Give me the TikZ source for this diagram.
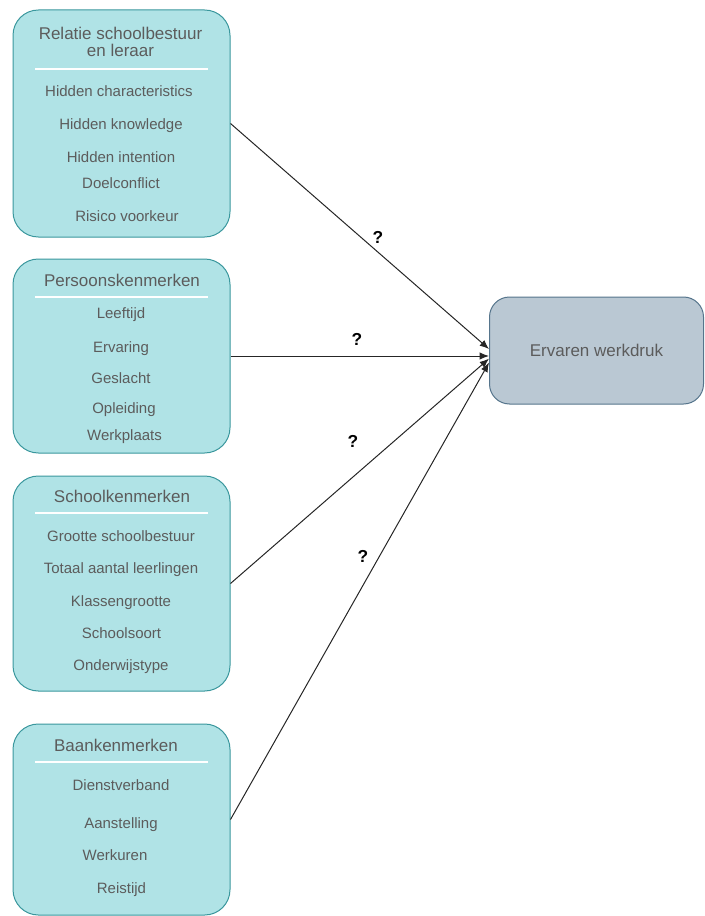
\documentclass[tikz,border=0pt]{standalone}
\usepackage{fontspec}
\setmainfont{Liberation Sans}
\usetikzlibrary{arrows.meta}
\definecolor{tealfill}{HTML}{B0E3E6}
\definecolor{tealline}{HTML}{3A979D}
\definecolor{greyfill}{HTML}{BAC8D3}
\definecolor{greyline}{HTML}{56758C}
\definecolor{textgrey}{HTML}{5C5C5C}

\begin{document}
\begin{tikzpicture}[
          x = 0.75pt, y = -0.75pt, inner sep = 0,
          every node/.style = {text = textgrey, font = \fontsize{11.25}{13}\selectfont}
        ]
          \tikzstyle {group} = [draw = tealline, line width = 0.75pt, fill = tealfill, rounded corners = 19pt, minimum width = 162.75pt]
          \tikzstyle {outcome} = [draw = greyline, line width = 0.75pt, fill = greyfill, rounded corners = 15pt, minimum width = 160.5pt, minimum height = 80.25pt, font = \fontsize{12.75}{15}\selectfont]
          \tikzstyle {heading} = [anchor = base, yshift = -4.6pt, font = \fontsize{12.75}{12.75}\selectfont]
          \tikzstyle {item} = [anchor = base, yshift = -4pt]
          \tikzstyle {query} = [text = black, font = \fontsize{13}{15}\selectfont\bfseries]
          \tikzstyle {sep} = [draw = white, line width = 1.5pt]
          \tikzstyle {link} = [-{Latex[length=7pt, width=5.5pt]}, draw = black!85, line width = 0.75pt]
          \useasboundingbox (0,0) rectangle (704,916);
          % place boxes
          \path node (rel) [group, minimum height = 170.25pt] at (121.5,123.5) {};
          \path node (pers) [group, minimum height = 145.5pt] at (121.5,356) {};
          \path node (school) [group, minimum height = 161.25pt] at (121.5,583.5) {};
          \path node (baan) [group, minimum height = 143.25pt] at (121.5,819.5) {};
          \path node (druk) [outcome] at (596.5,350.5) {Ervaren werkdruk};
          % headings
          \path node (relhead) [font = \fontsize{12.75}{12.75}\selectfont, align = center] at (120.5,41.5) {Relatie schoolbestuur\\en leraar};
          \path node (pershead) [heading] at (122,280) {Persoonskenmerken};
          \path node (schoolhead) [heading] at (122,496) {Schoolkenmerken};
          \path node (baanhead) [heading] at (116,745) {Baankenmerken};
          \foreach \y in {69, 297, 513, 762}
            { \draw [sep] (35,\y) -- (208,\y) ; } ;
          % place items
          \foreach \t/\x/\y [count=\i] in {Hidden characteristics/119/91, Hidden knowledge/121/124, Hidden intention/121/157, Doelconflict/121/183, Risico voorkeur/127/216}
            { \path node (rel\i) [item] at (\x,\y) {\t} ; } ;
          \foreach \t/\x/\y [count=\i] in {Leeftijd/121/313, Ervaring/121/347, Geslacht/121/378, Opleiding/124/408, Werkplaats/124.5/435}
            { \path node (pers\i) [item] at (\x,\y) {\t} ; } ;
          \foreach \t/\x/\y [count=\i] in {Grootte schoolbestuur/121/536, Totaal aantal leerlingen/121/568, Klassengrootte/121/601, Schoolsoort/121.5/633, Onderwijstype/121/665}
            { \path node (school\i) [item] at (\x,\y) {\t} ; } ;
          \foreach \t/\x/\y [count=\i] in {Dienstverband/121/785, Aanstelling/121/823, Werkuren/115/855, Reistijd/121.5/888}
            { \path node (baan\i) [item] at (\x,\y) {\t} ; } ;
          % place edges
          \foreach \a/\s in {rel/1.1pt, pers/-4.125pt, school/-6.1pt, baan/-9.1pt}
            { \draw [link] (\a.east) -- ([yshift = \s]druk.west) ; } ;
          % question marks
          \path node (q1) [query] at (378,237) {?};
          \path node (q2) [query] at (357,339) {?};
          \path node (q3) [query] at (353,441) {?};
          \path node (q4) [query] at (363,556) {?};
        \end{tikzpicture}
\end{document}
